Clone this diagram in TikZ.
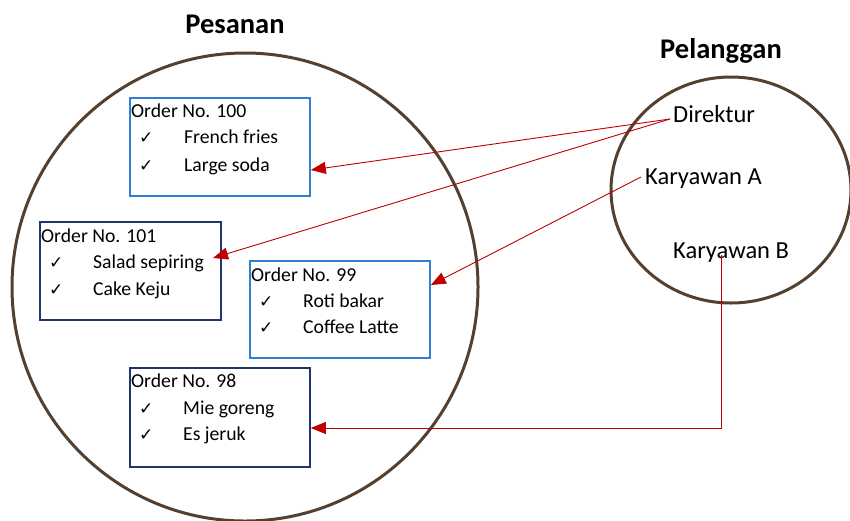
\documentclass[tikz,border=0pt]{standalone}
\usepackage{fontspec}
\setmainfont{Carlito}
\newfontfamily\symfont{DejaVu Sans}
\usetikzlibrary{arrows.meta}
\definecolor{ringbrown}{HTML}{54402F}
\definecolor{lightblue}{HTML}{2F80D0}
\definecolor{navyblue}{HTML}{1F3470}
\definecolor{arrowred}{HTML}{C00000}
\tikzset{
  ring/.style={draw=ringbrown, line width=3pt},
  boxlight/.style={draw=lightblue, line width=1.8pt},
  boxdark/.style={draw=navyblue, line width=1.8pt},
  txt/.style={anchor=base west, inner sep=0pt, font=\fontsize{19.7}{22}\selectfont},
  chk/.style={anchor=base west, inner sep=0pt, font=\symfont\fontsize{17}{19}\selectfont},
  cust/.style={anchor=base west, inner sep=0pt, font=\fontsize{24.5}{28}\selectfont},
  ttl/.style={anchor=base, inner sep=0pt, font=\bfseries\fontsize{28.5}{32}\selectfont},
  link/.style={draw=arrowred, line width=0.9pt, -{Triangle[length=15pt,width=12pt]}}
}
\begin{document}
\begin{tikzpicture}[x=1pt,y=-1pt]
\useasboundingbox (0,0) rectangle (850,520);
% big and small circles
\draw[ring] (245,287) ellipse [x radius=233, y radius=234];
\draw[ring] (731,190) ellipse [x radius=120, y radius=113];
% titles
\node[ttl] (tPes) at (235,33) {Pesanan};
\node[ttl] (tPel) at (721,58) {Pelanggan};
% boxes
\node[boxlight, anchor=north west, minimum width=180pt, minimum height=98pt, inner sep=0pt] (b100) at (129,97) {};
\node[boxdark, anchor=north west, minimum width=181pt, minimum height=98pt, inner sep=0pt] (b101) at (39,221) {};
\node[boxlight, anchor=north west, minimum width=180pt, minimum height=97pt, inner sep=0pt] (b99) at (249,260) {};
\node[boxdark, anchor=north west, minimum width=180pt, minimum height=99pt, inner sep=0pt] (b98) at (129,367) {};
% box 100
\node[txt] (o100) at (131,117) {Order No. 100};
\node[chk] (c100a) at (139,143) {✓};
\node[txt] (i100a) at (184,143) {French fries};
\node[chk] (c100b) at (139,171) {✓};
\node[txt] (i100b) at (184,171) {Large soda};
% box 101
\node[txt] (o101) at (41,242) {Order No. 101};
\node[chk] (c101a) at (49,268) {✓};
\node[txt] (i101a) at (93,268) {Salad sepiring};
\node[chk] (c101b) at (49,295) {✓};
\node[txt] (i101b) at (93,295) {Cake Keju};
% box 99
\node[txt] (o99) at (251,281) {Order No. 99};
\node[chk] (c99a) at (259,307) {✓};
\node[txt] (i99a) at (303,307) {Roti bakar};
\node[chk] (c99b) at (259,333) {✓};
\node[txt] (i99b) at (303,333) {Coffee Latte};
% box 98
\node[txt] (o98) at (131,387) {Order No. 98};
\node[chk] (c98a) at (139,414) {✓};
\node[txt] (i98a) at (183,414) {Mie goreng};
\node[chk] (c98b) at (139,440) {✓};
\node[txt] (i98b) at (183,440) {Es jeruk};
% customers
\node[cust] (dir) at (673,122) {Direktur};
\node[cust] (kA) at (645,184) {Karyawan A};
\node[cust] (kB) at (673,258) {Karyawan B};
% connector endpoints
\coordinate (dirS) at (670,119);
\coordinate (kAS) at (641,177);
\coordinate (kBS) at (721,255);
\coordinate (kBturn) at (721,428);
% arrows
\draw[link] (dirS) -- (b100.east |- 0,170);
\draw[link] (dirS) -- (213,258);
\draw[link] (kAS) -- (b99.east |- 0,285);
\draw[link] (kBS) -- (kBturn) -- (b98.east |- kBturn);
\end{tikzpicture}
\end{document}
